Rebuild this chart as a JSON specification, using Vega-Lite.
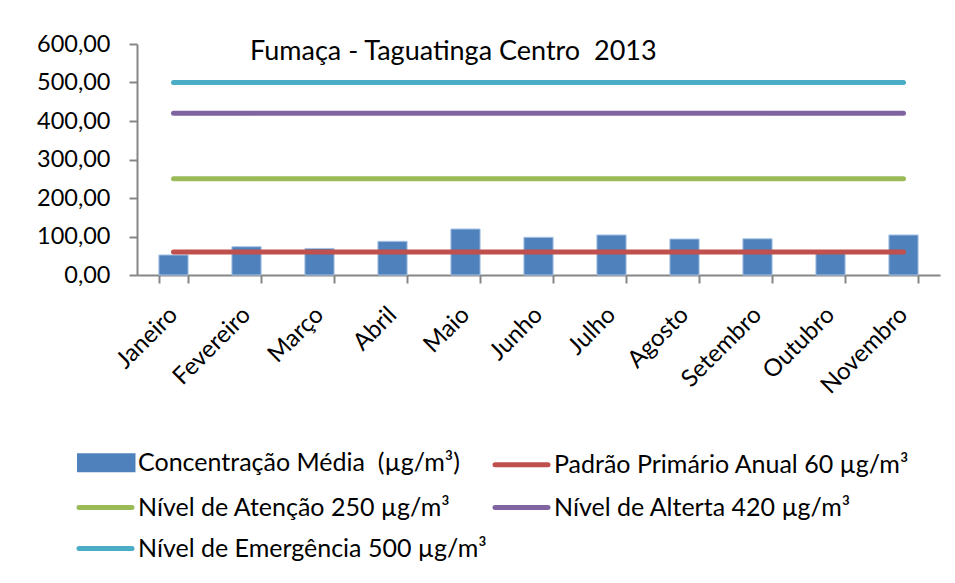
{
  "$schema": "https://vega.github.io/schema/vega-lite/v6.json",
  "autosize": "none",
  "width": 803,
  "height": 231,
  "padding": {"left": 137, "top": 44, "right": 15, "bottom": 308},
  "background": "white",
  "config": {"view": {"stroke": null}},
  "title": {
    "text": "Fumaça - Taguatinga Centro \u00a02013",
    "anchor": "start",
    "orient": "top",
    "frame": "group",
    "dx": 113,
    "dy": 55,
    "offset": 0,
    "baseline": "alphabetic",
    "font": "Lato",
    "fontSize": 27,
    "fontWeight": "normal",
    "color": "black"
  },
  "datasets": {
    "bars": [
      {"month": "Janeiro", "series": "Concentração Média \u00a0(µg/m³)", "value": 52},
      {"month": "Fevereiro", "series": "Concentração Média \u00a0(µg/m³)", "value": 73.5},
      {"month": "Março", "series": "Concentração Média \u00a0(µg/m³)", "value": 69},
      {"month": "Abril", "series": "Concentração Média \u00a0(µg/m³)", "value": 87.5},
      {"month": "Maio", "series": "Concentração Média \u00a0(µg/m³)", "value": 119.5},
      {"month": "Junho", "series": "Concentração Média \u00a0(µg/m³)", "value": 98},
      {"month": "Julho", "series": "Concentração Média \u00a0(µg/m³)", "value": 104},
      {"month": "Agosto", "series": "Concentração Média \u00a0(µg/m³)", "value": 93.5},
      {"month": "Setembro", "series": "Concentração Média \u00a0(µg/m³)", "value": 94},
      {"month": "Outubro", "series": "Concentração Média \u00a0(µg/m³)", "value": 57},
      {"month": "Novembro", "series": "Concentração Média \u00a0(µg/m³)", "value": 104}
    ],
    "lines": [
      {"month": "Janeiro", "series": "Padrão Primário Anual 60 µg/m³", "value": 60},
      {"month": "Fevereiro", "series": "Padrão Primário Anual 60 µg/m³", "value": 60},
      {"month": "Março", "series": "Padrão Primário Anual 60 µg/m³", "value": 60},
      {"month": "Abril", "series": "Padrão Primário Anual 60 µg/m³", "value": 60},
      {"month": "Maio", "series": "Padrão Primário Anual 60 µg/m³", "value": 60},
      {"month": "Junho", "series": "Padrão Primário Anual 60 µg/m³", "value": 60},
      {"month": "Julho", "series": "Padrão Primário Anual 60 µg/m³", "value": 60},
      {"month": "Agosto", "series": "Padrão Primário Anual 60 µg/m³", "value": 60},
      {"month": "Setembro", "series": "Padrão Primário Anual 60 µg/m³", "value": 60},
      {"month": "Outubro", "series": "Padrão Primário Anual 60 µg/m³", "value": 60},
      {"month": "Novembro", "series": "Padrão Primário Anual 60 µg/m³", "value": 60},
      {"month": "Janeiro", "series": "Nível de Atenção 250 µg/m³", "value": 250},
      {"month": "Fevereiro", "series": "Nível de Atenção 250 µg/m³", "value": 250},
      {"month": "Março", "series": "Nível de Atenção 250 µg/m³", "value": 250},
      {"month": "Abril", "series": "Nível de Atenção 250 µg/m³", "value": 250},
      {"month": "Maio", "series": "Nível de Atenção 250 µg/m³", "value": 250},
      {"month": "Junho", "series": "Nível de Atenção 250 µg/m³", "value": 250},
      {"month": "Julho", "series": "Nível de Atenção 250 µg/m³", "value": 250},
      {"month": "Agosto", "series": "Nível de Atenção 250 µg/m³", "value": 250},
      {"month": "Setembro", "series": "Nível de Atenção 250 µg/m³", "value": 250},
      {"month": "Outubro", "series": "Nível de Atenção 250 µg/m³", "value": 250},
      {"month": "Novembro", "series": "Nível de Atenção 250 µg/m³", "value": 250},
      {"month": "Janeiro", "series": "Nível de Alterta 420 µg/m³", "value": 420},
      {"month": "Fevereiro", "series": "Nível de Alterta 420 µg/m³", "value": 420},
      {"month": "Março", "series": "Nível de Alterta 420 µg/m³", "value": 420},
      {"month": "Abril", "series": "Nível de Alterta 420 µg/m³", "value": 420},
      {"month": "Maio", "series": "Nível de Alterta 420 µg/m³", "value": 420},
      {"month": "Junho", "series": "Nível de Alterta 420 µg/m³", "value": 420},
      {"month": "Julho", "series": "Nível de Alterta 420 µg/m³", "value": 420},
      {"month": "Agosto", "series": "Nível de Alterta 420 µg/m³", "value": 420},
      {"month": "Setembro", "series": "Nível de Alterta 420 µg/m³", "value": 420},
      {"month": "Outubro", "series": "Nível de Alterta 420 µg/m³", "value": 420},
      {"month": "Novembro", "series": "Nível de Alterta 420 µg/m³", "value": 420},
      {"month": "Janeiro", "series": "Nível de Emergência 500 µg/m³", "value": 500},
      {"month": "Fevereiro", "series": "Nível de Emergência 500 µg/m³", "value": 500},
      {"month": "Março", "series": "Nível de Emergência 500 µg/m³", "value": 500},
      {"month": "Abril", "series": "Nível de Emergência 500 µg/m³", "value": 500},
      {"month": "Maio", "series": "Nível de Emergência 500 µg/m³", "value": 500},
      {"month": "Junho", "series": "Nível de Emergência 500 µg/m³", "value": 500},
      {"month": "Julho", "series": "Nível de Emergência 500 µg/m³", "value": 500},
      {"month": "Agosto", "series": "Nível de Emergência 500 µg/m³", "value": 500},
      {"month": "Setembro", "series": "Nível de Emergência 500 µg/m³", "value": 500},
      {"month": "Outubro", "series": "Nível de Emergência 500 µg/m³", "value": 500},
      {"month": "Novembro", "series": "Nível de Emergência 500 µg/m³", "value": 500}
    ]
  },
  "encoding": {
    "x": {
      "field": "month",
      "type": "nominal",
      "sort": ["Janeiro", "Fevereiro", "Março", "Abril", "Maio", "Junho", "Julho", "Agosto", "Setembro", "Outubro", "Novembro"],
      "scale": {"paddingInner": 0.6, "paddingOuter": 0.3},
      "axis": {
        "title": null,
        "labelAngle": -45,
        "labelAlign": "right",
        "labelBaseline": "middle",
        "labelPadding": 28,
        "labelFont": "Lato",
        "labelFontSize": 24,
        "labelColor": "black",
        "labelLimit": 0,
        "tickBand": "extent",
        "tickSize": 8,
        "tickColor": "#868686",
        "tickWidth": 2,
        "domainColor": "#868686",
        "domainWidth": 2
      }
    },
    "y": {
      "field": "value",
      "type": "quantitative",
      "scale": {"domain": [0, 600], "nice": false},
      "axis": {
        "title": null,
        "values": [0, 100, 200, 300, 400, 500, 600],
        "labelExpr": "replace(format(datum.value, '.2f'), '.', ',')",
        "grid": false,
        "labelPadding": 19,
        "labelFont": "Lato",
        "labelFontSize": 23.5,
        "labelColor": "black",
        "tickSize": 8,
        "tickColor": "#868686",
        "tickWidth": 2,
        "domainColor": "#868686",
        "domainWidth": 2
      }
    },
    "color": {
      "field": "series",
      "type": "nominal",
      "scale": {
        "domain": ["Concentração Média \u00a0(µg/m³)", "Padrão Primário Anual 60 µg/m³", "Nível de Atenção 250 µg/m³", "Nível de Alterta 420 µg/m³", "Nível de Emergência 500 µg/m³"],
        "range": ["#4F81BD", "#C0504D", "#9BBB59", "#8064A2", "#4BACC6"]
      },
      "legend": {
        "title": null,
        "orient": "none",
        "legendX": -44,
        "legendY": 406,
        "direction": "horizontal",
        "columns": 2,
        "columnPadding": -2,
        "rowPadding": 15,
        "symbolType": "M-2.65,0H2.65",
        "symbolSize": 400,
        "symbolStrokeWidth": 5,
        "labelFont": "Lato",
        "labelFontSize": 25,
        "labelColor": "black",
        "labelLimit": 0,
        "labelOffset": 20,
        "encode": {
          "symbols": {
            "update": {
              "shape": {"signal": "indexof(datum.value, 'Concentra') === 0 ? 'M-2.6,-0.7H2.75V0.7H-2.6Z' : 'M-2.65,0H2.65'"},
              "fill": {"signal": "indexof(datum.value, 'Concentra') === 0 ? scale('color', datum.value) : 'transparent'"},
              "stroke": {"signal": "indexof(datum.value, 'Concentra') === 0 ? 'transparent' : scale('color', datum.value)"},
              "strokeWidth": {"value": 5},
              "strokeCap": {"value": "round"},
              "opacity": {"value": 1}
            }
          }
        }
      }
    }
  },
  "layer": [
    {
      "data": {"name": "bars"},
      "mark": {"type": "bar", "stroke": "#A8C4E4", "strokeWidth": 1}
    },
    {
      "data": {"name": "lines"},
      "mark": {"type": "line", "strokeWidth": 5, "strokeCap": "round"}
    }
  ]
}
